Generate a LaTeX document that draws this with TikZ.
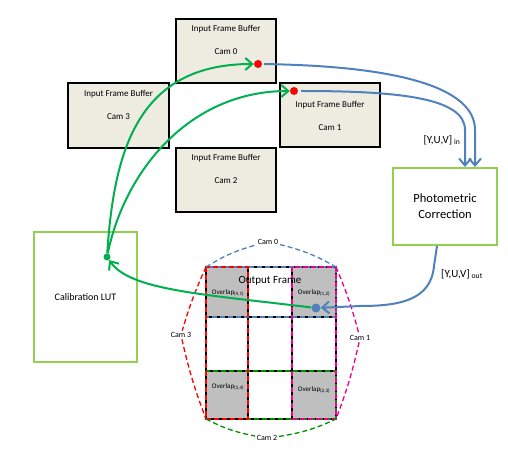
\documentclass[tikz,border=0pt]{standalone}
\usepackage{fontspec}
\setmainfont{Carlito}
\usetikzlibrary{arrows.meta}
\definecolor{bufill}{HTML}{EEECE1}
\definecolor{lgreen}{HTML}{92D050}
\definecolor{agreen}{HTML}{00B050}
\definecolor{ablue}{HTML}{4F81BD}
\definecolor{dgreen}{HTML}{009000}
\definecolor{ogray}{HTML}{BFBFBF}
\tikzset{
  buf/.style={draw=black, line width=1.6pt, fill=bufill, minimum width=100pt, minimum height=64pt, inner sep=0pt},
  buftext/.style={font=\fontsize{9}{10}\selectfont, align=center, inner sep=0pt},
  gbox/.style={draw=lgreen, line width=2pt, fill=white, inner sep=0pt},
  garrow/.style={draw=agreen, line width=2pt, -{Straight Barb[length=7pt,width=12pt]}},
  barrow/.style={draw=ablue, line width=2pt, -{Straight Barb[length=7pt,width=12pt]}},
  camlab/.style={fill=white, inner sep=1.5pt, font=\fontsize{8}{9}\selectfont},
  dashy/.style={line width=1.3pt, dash pattern=on 5pt off 3pt},
  ovl/.style={font=\fontsize{7}{8}\selectfont, inner sep=0pt},
  dotr/.style={circle, fill=red, inner sep=0pt, minimum size=8pt},
}
\begin{document}
\begin{tikzpicture}[x=1pt,y=-1pt]
\useasboundingbox (0,0) rectangle (508,462);

% input frame buffers
\node[buf] (b0) at (226,51) {};
\node[buftext] at (226,40) {Input Frame Buffer\\[13pt]Cam 0};
\node[buf] (b1) at (330,115) {};
\node[buftext] at (330,116) {Input Frame Buffer\\[13pt]Cam 1};
\node[buf, minimum width=101pt, minimum height=65pt] (b3) at (118.5,115.5) {};
\node[buftext] at (118.5,104.5) {Input Frame Buffer\\[13pt]Cam 3};
\node[buf] (b2) at (226,180) {};
\node[buftext] at (226,168.5) {Input Frame Buffer\\[13pt]Cam 2};

% photometric correction and calibration
\node[gbox, minimum width=104pt, minimum height=77pt, font=\fontsize{12.5}{16}\selectfont, align=center] (pc) at (445,206.5) {Photometric\\Correction};
\node[gbox, minimum width=103pt, minimum height=130pt, font=\fontsize{10}{12}\selectfont] (lut) at (85.5,297) {Calibration LUT};

% output frame grid
\fill[ogray] (206,267) rectangle (248,317);
\fill[ogray] (292,267) rectangle (336,317);
\fill[ogray] (206,371) rectangle (248,419);
\fill[ogray] (292,371) rectangle (336,419);
\draw[black, line width=1.5pt] (206,267) rectangle (336,419);
\draw[black, line width=1.5pt] (248,267) -- (248,419) (292,267) -- (292,419)
  (206,317) -- (336,317) (206,371) -- (336,371);
\draw[dashy, ablue] (206,267) rectangle (336,317);
\draw[dashy, dgreen] (206,371) rectangle (336,419);
\draw[dashy, red] (206,267) rectangle (248,419);
\draw[dashy, magenta] (292,267) rectangle (336,419);

\node[font=\fontsize{11}{13}\selectfont, inner sep=0pt] (of) at (270,281) {Output Frame};
\node[ovl] at (228,293) {Overlap\textsubscript{(4,1)}};
\node[ovl] at (314,293) {Overlap\textsubscript{(1,2)}};
\node[ovl] at (228,387) {Overlap\textsubscript{(3,4)}};
\node[ovl] at (314,390) {Overlap\textsubscript{(2,3)}};

% camera footprints
\coordinate (tl) at (206,267);
\coordinate (tr) at (336,267);
\coordinate (bl) at (206,419);
\coordinate (br) at (336,419);
\node[camlab] (c0) at (268,242) {Cam 0};
\node[camlab] (c1) at (360,338) {Cam 1};
\node[camlab] (c2) at (267,438) {Cam 2};
\node[camlab] (c3) at (181,335) {Cam 3};
\draw[dashy, ablue] (tl) to[bend left=8] (c0) (c0) to[bend left=8] (tr);
\draw[dashy, magenta] (tr) to[bend left=4] (c1) (c1) to[bend left=4] (br);
\draw[dashy, dgreen] (bl) to[bend right=8] (c2) (c2) to[bend right=8] (br);
\draw[dashy, red] (tl) to[bend right=4] (c3) (c3) to[bend right=4] (bl);

% dots
\node[dotr] (r0) at (258,64) {};
\node[dotr] (r1) at (294,91) {};
\node[circle, fill=agreen, inner sep=0pt, minimum size=7pt] (g) at (107,257) {};
\node[circle, fill=ablue, inner sep=0pt, minimum size=9pt] (bd) at (316,308) {};

% green connectors
\draw[garrow] (g) .. controls (114,150) and (138,64) .. (r0);
\draw[garrow] (g) .. controls (125,170) and (190,91) .. (r1);
\draw[garrow] (bd) .. controls (200,294) and (130,290) .. (g);

% blue connectors
\draw[barrow, shorten <=2pt] (r0) .. controls (400,66) and (475,88) .. (475,130) -- ([xshift=30pt]pc.north);
\draw[barrow, shorten <=3pt] (r1) .. controls (400,91) and (465,98) .. (465,130) -- ([xshift=20pt]pc.north);
\draw[barrow] ([xshift=-8pt]pc.south) -- (434,266) .. controls (431,300) and (400,306) .. (360,306) -- (bd);

\node[font=\fontsize{11}{13}\selectfont, inner sep=0pt] (yin) at (442,140) {[Y,U,V]\,\textsubscript{in}};
\node[font=\fontsize{11}{13}\selectfont, inner sep=0pt] (yout) at (462,274) {[Y,U,V]\,\textsubscript{out}};
\end{tikzpicture}
\end{document}
